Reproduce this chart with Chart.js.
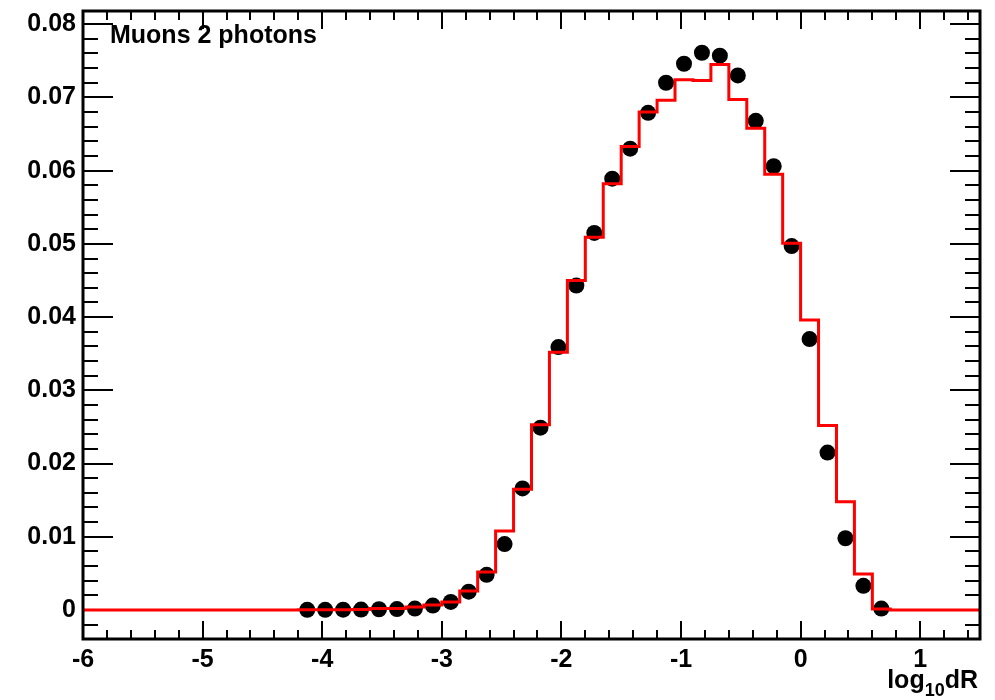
<!DOCTYPE html>
<html>
<head>
<meta charset="utf-8">
<script src="https://cdn.jsdelivr.net/npm/chart.js@4.4.1/dist/chart.umd.min.js"></script>
<style>
  html, body { margin: 0; padding: 0; background: #ffffff; }
  #wrap { width: 995px; height: 700px; position: relative; }
</style>
</head>
<body>
<div id="wrap"><canvas id="c" width="995" height="700"></canvas></div>
<script>
// Histogram binning of log10(dR)
const xMin = -6;
const xMax = 1.5;
const binWidth = 0.15;
const yMin = -0.00396;
const yMax = 0.0818;

// Simulation (red step histogram), one value per bin from -6 to 1.5
const simValues = [
  0, 0, 0, 0, 0, 0, 0, 0, 0, 0,
  0, 0, 0.00002, 0.00003, 0.00004, 0.00006, 0.0002, 0.0002, 0.0004, 0.0007,
  0.0011, 0.0026, 0.0052, 0.0108, 0.0165, 0.0253, 0.0352, 0.0450, 0.0509, 0.0582,
  0.0633, 0.0680, 0.0696, 0.0724, 0.0723, 0.0745, 0.0697, 0.0658, 0.0595, 0.0501,
  0.0396, 0.0252, 0.0148, 0.0049, 0.00015, 0, 0, 0, 0, 0
];

// Data points (black markers) at bin centres
const dataCenters = [
  -4.125, -3.975, -3.825, -3.675, -3.525, -3.375, -3.225, -3.075, -2.925, -2.775,
  -2.625, -2.475, -2.325, -2.175, -2.025, -1.875, -1.725, -1.575, -1.425, -1.275,
  -1.125, -0.975, -0.825, -0.675, -0.525, -0.375, -0.225, -0.075, 0.075, 0.225,
  0.375, 0.525, 0.675
];
const dataValues = [
  0.00002, 0.00003, 0.00004, 0.00006, 0.0001, 0.00012, 0.0002, 0.0006, 0.0011, 0.0025,
  0.0048, 0.0090, 0.0166, 0.0249, 0.0359, 0.0443, 0.0515, 0.0589, 0.0630, 0.0679,
  0.0720, 0.0746, 0.0761, 0.0757, 0.0730, 0.0668, 0.0606, 0.0497, 0.0370, 0.0215,
  0.0098, 0.0033, 0.0002
];

// Axis ticks
const xTickLabels = [-6, -5, -4, -3, -2, -1, 0, 1];
const yTickLabels = [0, 0.01, 0.02, 0.03, 0.04, 0.05, 0.06, 0.07, 0.08];
const xMinorStep = 0.2;
const yMinorStep = 0.002;

const panelLabel = 'Muons 2 photons';

// Step line: left edge of every bin carries the bin content, closing at xMax
const stepPoints = simValues.map((v, i) => ({ x: xMin + i * binWidth, y: v }));
stepPoints.push({ x: xMax, y: simValues[simValues.length - 1] });
const markerPoints = dataCenters.map((x, i) => ({ x: x, y: dataValues[i] }));

const FONT = "'Liberation Sans', Arial, Helvetica, sans-serif";

// Inward tick marks on all four sides (under the data), frame and texts on top
const frameAndTicks = {
  id: 'frameAndTicks',
  beforeDatasetsDraw(chart) {
    const ctx = chart.ctx;
    const a = chart.chartArea;
    const xs = chart.scales.x;
    const ys = chart.scales.y;
    ctx.save();
    ctx.strokeStyle = '#000';
    ctx.lineCap = 'butt';
    ctx.lineWidth = 2;

    // x ticks (bottom & top)
    const xMaj = 18, xMinL = 9;
    const nx = Math.round((xMax - xMin) / xMinorStep);
    for (let i = 0; i <= nx; i++) {
      const v = xMin + i * xMinorStep;
      if (v > xMax + 1e-9) break;
      const isMajor = Math.abs(v - Math.round(v)) < 1e-6;
      const len = isMajor ? xMaj : xMinL;
      const px = Math.round(xs.getPixelForValue(v));
      ctx.beginPath();
      ctx.moveTo(px, a.bottom); ctx.lineTo(px, a.bottom - len);
      ctx.moveTo(px, a.top); ctx.lineTo(px, a.top + len);
      ctx.stroke();
    }

    // y ticks (left & right)
    const yMaj = 30, yMinL = 15;
    const kStart = Math.ceil(yMin / yMinorStep - 1e-9);
    const kEnd = Math.floor(yMax / yMinorStep + 1e-9);
    for (let k = kStart; k <= kEnd; k++) {
      const v = k * yMinorStep;
      const isMajor = k % 5 === 0;
      const len = isMajor ? yMaj : yMinL;
      const py = Math.round(ys.getPixelForValue(v));
      ctx.beginPath();
      ctx.moveTo(a.left, py); ctx.lineTo(a.left + len, py);
      ctx.moveTo(a.right, py); ctx.lineTo(a.right - len, py);
      ctx.stroke();
    }
    ctx.restore();
  },
  afterDatasetsDraw(chart) {
    const ctx = chart.ctx;
    const a = chart.chartArea;
    ctx.save();
    ctx.strokeStyle = '#000';

    // frame
    ctx.lineWidth = 3;
    ctx.strokeRect(a.left, a.top, a.right - a.left, a.bottom - a.top);

    // panel label
    ctx.fillStyle = '#000';
    ctx.textBaseline = 'alphabetic';
    ctx.textAlign = 'left';
    ctx.font = 'bold 25px ' + FONT;
    ctx.fillText(panelLabel, a.left + 27, a.top + 32);

    // x-axis title: log10dR with subscript, right aligned to the frame
    const big = 'bold 25px ' + FONT;
    const small = 'bold 18px ' + FONT;
    ctx.font = big;
    const wLog = ctx.measureText('log').width;
    const wDR = ctx.measureText('dR').width;
    ctx.font = small;
    const wSub = ctx.measureText('10').width;
    const right = a.right - 2;
    const base = 688;
    const x0 = right - (wLog + wSub + wDR);
    ctx.font = big;
    ctx.fillText('log', x0, base);
    ctx.font = small;
    ctx.fillText('10', x0 + wLog, base + 8);
    ctx.font = big;
    ctx.fillText('dR', x0 + wLog + wSub, base);

    ctx.restore();
  }
};

new Chart(document.getElementById('c'), {
  type: 'scatter',
  data: {
    datasets: [
      {
        type: 'line',
        label: 'simulation',
        data: stepPoints,
        stepped: 'before',
        borderColor: '#ff0000',
        borderWidth: 3,
        pointRadius: 0,
        fill: false,
        order: 0
      },
      {
        type: 'scatter',
        label: 'data',
        data: markerPoints,
        pointRadius: 8,
        pointHoverRadius: 8,
        pointBackgroundColor: '#000',
        pointBorderWidth: 0,
        order: 1
      }
    ]
  },
  options: {
    responsive: false,
    animation: false,
    devicePixelRatio: 1,
    events: [],
    layout: { padding: { top: 11, right: 15, left: 0, bottom: 0 } },
    plugins: { legend: { display: false }, tooltip: { enabled: false } },
    scales: {
      x: {
        type: 'linear',
        min: xMin,
        max: xMax,
        grid: { display: false, drawTicks: false },
        border: { display: false },
        afterBuildTicks: s => { s.ticks = xTickLabels.map(v => ({ value: v })); },
        afterFit: s => { s.height = 61; s.paddingLeft = 0; s.paddingRight = 0; },
        ticks: {
          color: '#000',
          padding: 6,
          maxRotation: 0,
          font: { family: FONT, size: 25, weight: 'bold' },
          callback: v => String(v)
        }
      },
      y: {
        type: 'linear',
        min: yMin,
        max: yMax,
        grid: { display: false, drawTicks: false },
        border: { display: false },
        afterBuildTicks: s => { s.ticks = yTickLabels.map(v => ({ value: v })); },
        afterFit: s => { s.width = 83; s.paddingTop = 0; s.paddingBottom = 0; },
        ticks: {
          color: '#000',
          padding: 7,
          font: { family: FONT, size: 25, weight: 'bold' },
          callback: v => (v === 0 ? '0' : String(Math.round(v * 100) / 100))
        }
      }
    }
  },
  plugins: [frameAndTicks]
});
</script>
</body>
</html>
